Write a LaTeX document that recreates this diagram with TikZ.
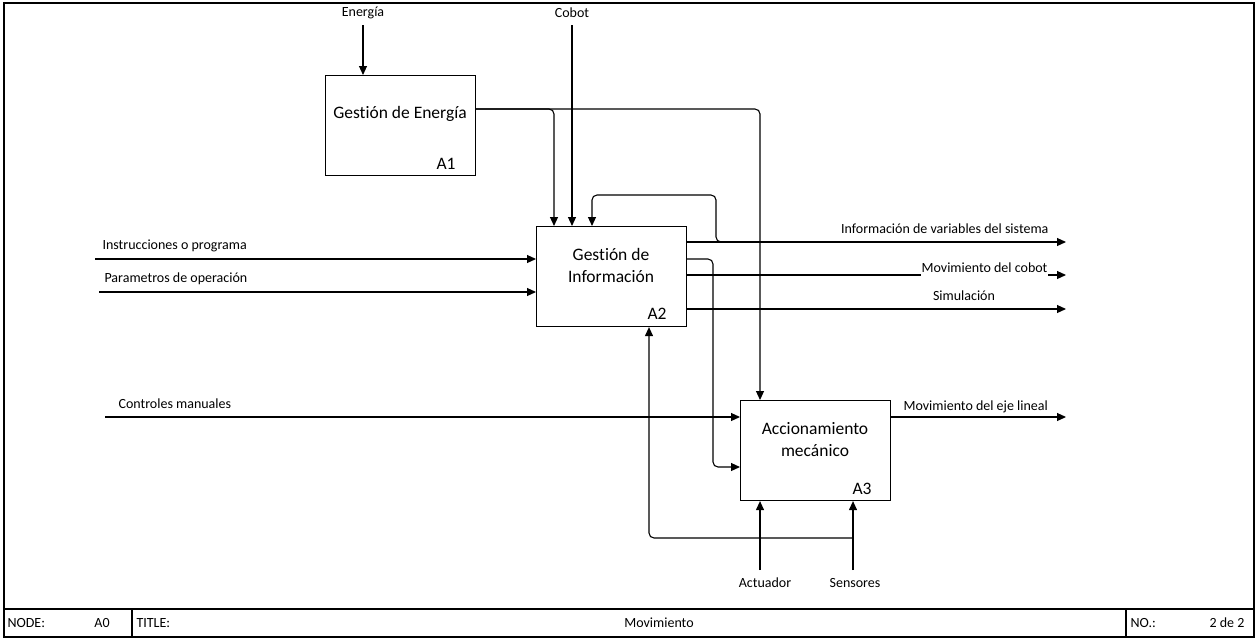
\documentclass[tikz,border=0pt]{standalone}
\usepackage{fontspec}
\setmainfont{Carlito}[Ligatures={NoCommon}]
\usetikzlibrary{arrows.meta}
\begin{document}
\begin{tikzpicture}[x=1pt,y=-1pt, line width=1.1pt,
  flow/.style={-{Triangle[length=9pt,width=8pt]}, rounded corners=5pt},
  proc/.style={draw, minimum width=150pt, minimum height=100pt, anchor=north west, inner sep=0pt},
  lbl/.style={font=\fontsize{14}{16}\selectfont, inner sep=1pt},
  big/.style={font=\fontsize{17.5}{22}\selectfont, align=center, inner sep=0pt},
  foot/.style={font=\fontsize{14}{16}\selectfont, inner sep=0pt}]
\useasboundingbox (0,0) rectangle (1260,643);
% frame
\draw[line width=1.2pt] (4,3) rectangle (1254,637);
\draw (4,609) -- (1254,609);
\draw (132,609) -- (132,637);
\draw (1126,609) -- (1126,637);
\node[foot, anchor=west] (fnode) at (7,623) {NODE:};
\node[foot] (fa0) at (102,623) {A0};
\node[foot, anchor=west] (ftitle) at (136,623) {TITLE:};
\node[foot] (fmov) at (659,623) {Movimiento};
\node[foot, anchor=west] (fno) at (1130,623) {NO.:};
\node[foot, anchor=east] (fpg) at (1245,623) {2 de 2};
% boxes
\node[proc] (A1) at (325,75) {};
\node[proc] (A2) at (536,226) {};
\node[proc] (A3) at (740,400) {};
\node[big] (t1) at (400,114) {Gestión de Energía};
\node[big] (l1) at (446,164) {A1};
\node[big] (t2) at (611,265) {Gestión de\\Información};
\node[big] (l2) at (657,314) {A2};
\node[big] (t3) at (815,440) {Accionamiento\\mecánico};
\node[big] (l3) at (862,489) {A3};
% helper coordinates
\coordinate (y109) at (0,109);
\coordinate (y195) at (0,195);
\coordinate (y242) at (0,242);
\coordinate (y259) at (0,259);
\coordinate (y275) at (0,275);
\coordinate (y309) at (0,309);
\coordinate (y417) at (0,417);
\coordinate (y467) at (0,467);
\coordinate (y538) at (0,538);
\coordinate (x554) at (554,0);
\coordinate (x592) at (592,0);
\coordinate (x649) at (649,0);
\coordinate (x713) at (713,0);
\coordinate (x716) at (716,0);
\coordinate (x760) at (760,0);
\coordinate (x1066) at (1066,0);
\coordinate (fbS) at (735,242);
\coordinate (eS) at (363,25);
\coordinate (cS) at (572,25);
\coordinate (inS) at (95,259);
\coordinate (paS) at (99,292);
\coordinate (ctS) at (105,417);
\coordinate (acS) at (760,570);
\coordinate (seS) at (853,570);
% top inputs
\node[lbl] (lE) at (363,13) {Energía};
\node[lbl] (lC) at (572,13) {Cobot};
\draw[flow] (eS) -- (eS |- A1.north);
\draw[flow] (cS) -- (cS |- A2.north);
% A1 outputs
\draw[flow] (A1.east |- y109) -| (x554 |- A2.north);
\draw[flow] (A1.east |- y109) -| (x760 |- A3.north);
% left inputs
\draw[flow] (inS) -- (A2.west |- inS);
\draw[flow] (paS) -- (A2.west |- paS);
\draw[flow] (ctS) -- (A3.west |- ctS);
\node[lbl, anchor=west] (lI) at (101,246) {Instrucciones o programa};
\node[lbl, anchor=west] (lP) at (103,279) {Parametros de operación};
\node[lbl, anchor=west] (lCt) at (117,404) {Controles manuales};
% A2 outputs
\draw[flow] (A2.east |- y242) -- (x1066 |- y242);
\draw[flow] (fbS) -| (x716 |- y195) -| (x592 |- A2.north);
\draw[flow] (A2.east |- y275) -- (x1066 |- y275);
\draw[flow] (A2.east |- y309) -- (x1066 |- y309);
\draw[flow] (A2.east |- y259) -| (x713 |- y467) -- (A3.west |- y467);
\node[lbl, anchor=east] (lInf) at (1050,229) {Información de variables del sistema};
\node[lbl, anchor=east, fill=white, inner ysep=3pt] (lMc) at (1049,268) {Movimiento del cobot};
\node[lbl] (lSim) at (964,296) {Simulación};
% A3 output
\draw[flow] (A3.east |- y417) -- (x1066 |- y417);
\node[lbl, anchor=west] (lEje) at (902,407) {Movimiento del eje lineal};
% bottom
\draw[flow] (acS) -- (acS |- A3.south);
\draw[flow] (seS) -- (seS |- A3.south);
\draw[flow] (seS |- y538) -| (x649 |- A2.south);
\node[lbl] (lAc) at (765,583) {Actuador};
\node[lbl] (lSe) at (855,583) {Sensores};
\end{tikzpicture}
\end{document}
